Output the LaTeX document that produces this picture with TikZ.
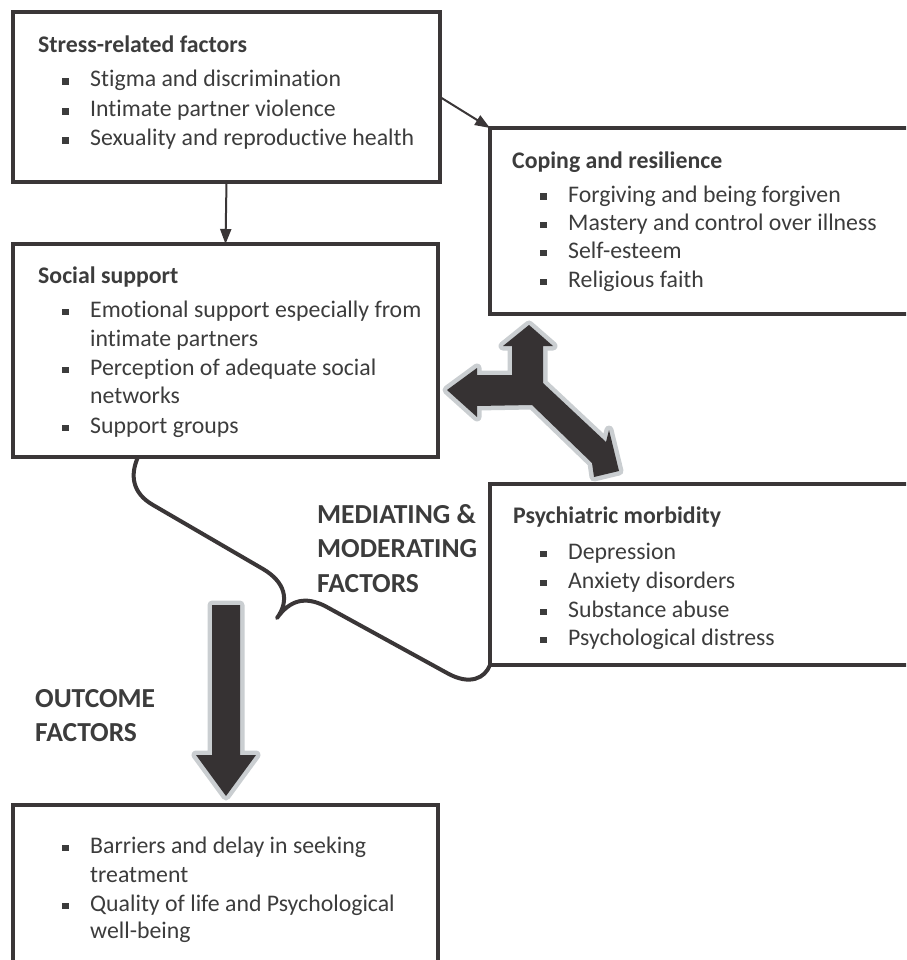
\documentclass[tikz,border=0pt]{standalone}
\usepackage{fontspec}
\setmainfont{Carlito}[Ligatures=NoCommon]
\usetikzlibrary{arrows.meta}
\definecolor{linec}{HTML}{3A3637}
\definecolor{txt}{HTML}{3C3C3C}
\definecolor{adark}{HTML}{363233}
\definecolor{alight}{HTML}{CACED1}
\newcommand\bul{\makebox[28pt][l]{\rule[2pt]{6.5pt}{6.5pt}}}
\begin{document}
\begin{tikzpicture}[x=1pt,y=-1pt,
  box/.style={draw=linec, line width=3.5pt, anchor=north west, inner sep=0pt, outer sep=0pt},
  ttl/.style={anchor=base west, inner sep=0pt, text=txt, font=\fontsize{23.8}{29}\selectfont\bfseries},
  itm/.style={anchor=base west, inner sep=0pt, text=txt, font=\fontsize{23.8}{29}\selectfont},
  biglbl/.style={anchor=base west, inner sep=0pt, text=txt, font=\fontsize{27.5}{34}\selectfont\bfseries},
  conn/.style={draw=linec, line width=2pt, -{Triangle[length=15pt,width=11pt]}},
  bracestyle/.style={draw=linec, line width=4pt, line join=round},
  bigarrow/.style={fill=adark, preaction={draw=alight, line width=9pt, line join=round}}]
\useasboundingbox (0,0) rectangle (906,960);
\clip (0,0) rectangle (906,960);

% boxes
\node[box, minimum width=427pt, minimum height=170pt] (stress) at (13,12) {};
\node[box, minimum width=425pt, minimum height=213pt] (social) at (13,244) {};
\node[box, minimum width=440pt, minimum height=186pt] (coping) at (490,128) {};
\node[box, minimum width=440pt, minimum height=181pt] (psych) at (490,484) {};
\node[box, minimum width=425pt, minimum height=200pt] (outcome) at (13,805) {};

% stress text
\node[ttl] (st0) at (38,53) {Stress-related factors};
\node[itm] (st1) at (62,87) {\bul Stigma and discrimination};
\node[itm] (st2) at (62,117) {\bul Intimate partner violence};
\node[itm] (st3) at (62,146) {\bul Sexuality and reproductive health};

% social text
\node[ttl] (so0) at (38,283) {Social support};
\node[itm] (so1) at (62,317) {\bul Emotional support especially from};
\node[itm] (so1b) at (90,346) {intimate partners};
\node[itm] (so2) at (62,375) {\bul Perception of adequate social};
\node[itm] (so2b) at (90,403) {networks};
\node[itm] (so3) at (62,433) {\bul Support groups};

% coping text
\node[ttl] (co0) at (512,168) {Coping and resilience};
\node[itm] (co1) at (540,202) {\bul Forgiving and being forgiven};
\node[itm] (co2) at (540,230) {\bul Mastery and control over illness};
\node[itm] (co3) at (540,258) {\bul Self-esteem};
\node[itm] (co4) at (540,287) {\bul Religious faith};

% psych text
\node[ttl] (ps0) at (513,523) {Psychiatric morbidity};
\node[itm] (ps1) at (540,559) {\bul Depression};
\node[itm] (ps2) at (540,588) {\bul Anxiety disorders};
\node[itm] (ps3) at (540,617) {\bul Substance abuse};
\node[itm] (ps4) at (540,645) {\bul Psychological distress};

% outcome text
\node[itm] (ou1) at (62,853) {\bul Barriers and delay in seeking};
\node[itm] (ou1b) at (90,882) {treatment};
\node[itm] (ou2) at (62,911) {\bul Quality of life and Psychological};
\node[itm] (ou2b) at (90,938) {well-being};

% labels
\node[biglbl] (m1) at (317,523) {MEDIATING \&};
\node[biglbl] (m2) at (317,557) {MODERATING};
\node[biglbl] (m3) at (317,592) {FACTORS};
\node[biglbl] (o1) at (35,707) {OUTCOME};
\node[biglbl] (o2) at (35,741) {FACTORS};

% connectors
\draw[conn] (stress.south) -- (social.north);
\draw[conn] (stress.east) -- (coping.north west);

% brace
\coordinate (bs) at ([xshift=125pt]social.south west);
\draw[bracestyle] (bs) .. controls (130,475) and (132,493) .. (153,505)
  -- (263,569) .. controls (285,582) and (290,600) .. (277,618)
  .. controls (290,600) and (305,596) .. (325,606)
  -- (447,673) .. controls (470,686) and (485,678) .. (psych.south west);

% three-way arrow
\path[bigarrow] (529,325) -- (553,346) -- (543,346) -- (543,383) -- (606,442)
  -- (609,430) -- (619,471) -- (594,477) -- (592,463) -- (532,405)
  -- (477,406) -- (477,417) -- (447,390) -- (477,368) -- (477,375)
  -- (512,375) -- (512,346) -- (503,346) -- cycle;

% down arrow
\path[bigarrow] (212,605) -- (240,605) -- (240,755) -- (256,755) -- (226,796)
  -- (196,755) -- (212,755) -- cycle;
\end{tikzpicture}
\end{document}
